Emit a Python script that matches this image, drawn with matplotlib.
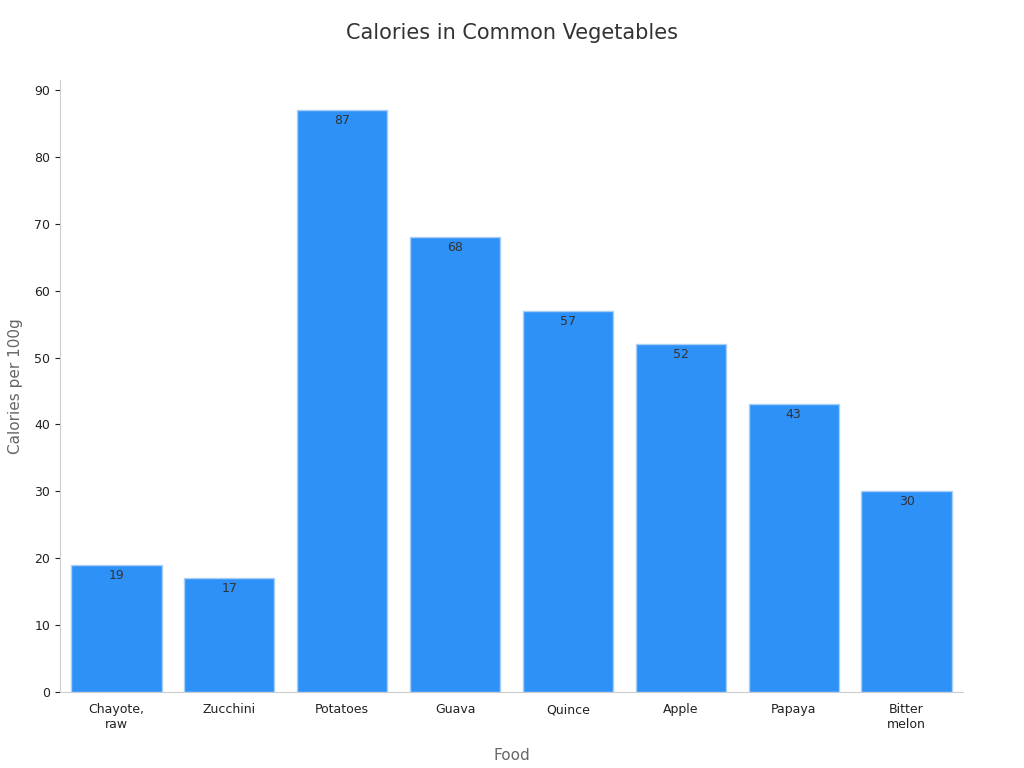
import matplotlib
matplotlib.use('Agg')
import matplotlib.pyplot as plt

foods = ["Chayote,\nraw", "Zucchini", "Potatoes", "Guava", "Quince", "Apple", "Papaya", "Bitter\nmelon"]
calories = [19, 17, 87, 68, 57, 52, 43, 30]

fig = plt.figure(figsize=(10.24, 7.68), dpi=100)
ax = fig.add_axes([60 / 1024, 1 - 692 / 768, 903 / 1024, 612 / 768])

bars = ax.bar(range(len(foods)), calories, width=0.8, color='#2d91f8',
              edgecolor='#a9cff7', linewidth=1)
for b, v in zip(bars, calories):
    ax.text(b.get_x() + b.get_width() / 2, v - 0.6, str(v), ha='center', va='top',
            fontsize=9, color='#333333')

ax.set_xlim(-0.5, 7.5)
ax.set_ylim(0, 91.5)
ax.set_yticks(range(0, 91, 10))
ax.set_xticks(range(len(foods)))
ax.set_xticklabels(foods, fontsize=9, color='#222222')
ax.tick_params(axis='y', labelsize=9, colors='#222222')
ax.tick_params(axis='x', length=0, pad=8)
for s in ['top', 'right']:
    ax.spines[s].set_visible(False)
for s in ['left', 'bottom']:
    ax.spines[s].set_color('#cccccc')
ax.set_xlabel("Food", fontsize=11, color='#666666', labelpad=12)
ax.set_ylabel("Calories per 100g", fontsize=11, color='#666666', labelpad=8)
fig.text(0.5, 1 - 33 / 768, "Calories in Common Vegetables", ha='center', va='center',
         fontsize=15, color='#333333')

fig.savefig("out.png", dpi=100)
